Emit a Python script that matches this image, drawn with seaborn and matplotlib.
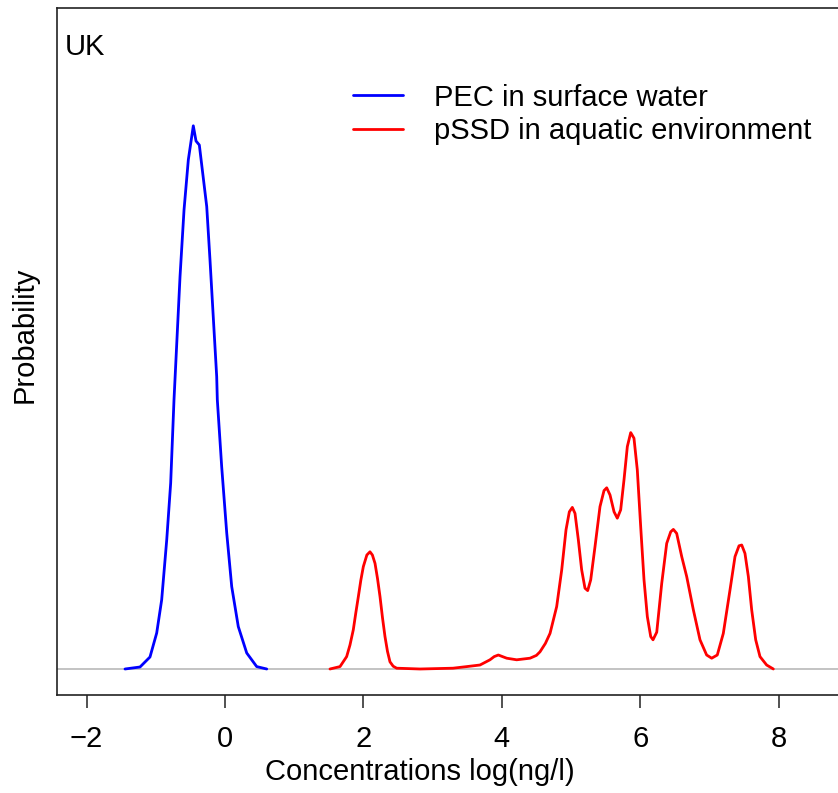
import numpy as np
import pandas as pd
import matplotlib
matplotlib.use("Agg")
import matplotlib.pyplot as plt
import seaborn as sns

# Density curves (x in log(ng/l), y in arbitrary density units)
pec_x = [-1.445, -1.228, -1.084, -0.987, -0.915, -0.842, -0.785, -0.737, -0.650, -0.592,
         -0.530, -0.458, -0.419, -0.371, -0.264, -0.217, -0.120, -0.111, -0.048, 0.025,
         0.097, 0.192, 0.314, 0.458, 0.603]
pec_y = [0.000, 0.005, 0.030, 0.090, 0.173, 0.323, 0.465, 0.673, 0.981, 1.148,
         1.273, 1.358, 1.320, 1.310, 1.156, 1.023, 0.731, 0.673, 0.506, 0.340,
         0.206, 0.106, 0.040, 0.006, 0.000]

pssd_x = [1.517, 1.662, 1.758, 1.806, 1.854, 1.890, 1.927, 1.963, 1.999, 2.050,
          2.095, 2.130, 2.168, 2.204, 2.240, 2.276, 2.312, 2.348, 2.384, 2.430,
          2.481, 2.818, 3.058, 3.295, 3.493, 3.685, 3.829, 3.890, 3.950, 4.010,
          4.071, 4.215, 4.408, 4.500, 4.552, 4.630, 4.697, 4.793, 4.866, 4.928,
          4.976, 5.019, 5.058, 5.106, 5.154, 5.202, 5.241, 5.285, 5.347, 5.419,
          5.477, 5.516, 5.564, 5.622, 5.669, 5.718, 5.766, 5.814, 5.863, 5.910,
          5.958, 6.007, 6.055, 6.103, 6.152, 6.185, 6.239, 6.311, 6.383, 6.441,
          6.479, 6.527, 6.600, 6.672, 6.768, 6.864, 6.960, 7.033, 7.114, 7.201,
          7.298, 7.370, 7.428, 7.467, 7.514, 7.563, 7.611, 7.669, 7.731, 7.827,
          7.924]
pssd_y = [0.000, 0.006, 0.031, 0.060, 0.098, 0.140, 0.181, 0.222, 0.256, 0.285,
          0.293, 0.285, 0.264, 0.226, 0.181, 0.128, 0.081, 0.044, 0.018, 0.007,
          0.002, 0.000, 0.001, 0.002, 0.006, 0.010, 0.023, 0.031, 0.035, 0.031,
          0.027, 0.023, 0.027, 0.034, 0.043, 0.064, 0.089, 0.156, 0.248, 0.348,
          0.393, 0.404, 0.389, 0.323, 0.248, 0.202, 0.196, 0.223, 0.306, 0.406,
          0.446, 0.453, 0.435, 0.393, 0.377, 0.398, 0.473, 0.556, 0.591, 0.577,
          0.498, 0.356, 0.223, 0.131, 0.081, 0.073, 0.092, 0.214, 0.314, 0.343,
          0.349, 0.339, 0.281, 0.231, 0.148, 0.073, 0.035, 0.027, 0.035, 0.089,
          0.198, 0.281, 0.308, 0.310, 0.289, 0.231, 0.148, 0.073, 0.031, 0.010,
          0.000]

series_names = ["PEC in surface water", "pSSD in aquatic environment"]
series_colors = ["blue", "red"]
x_ticks = [-2, 0, 2, 4, 6, 8]

df = pd.concat([
    pd.DataFrame({"x": pec_x, "y": pec_y, "series": series_names[0]}),
    pd.DataFrame({"x": pssd_x, "y": pssd_y, "series": series_names[1]}),
], ignore_index=True)

sns.set_style("ticks")
plt.rcParams["font.family"] = ["Liberation Sans", "DejaVu Sans"]
plt.rcParams["text.color"] = "black"
plt.rcParams["axes.labelcolor"] = "black"
plt.rcParams["xtick.color"] = "black"

W, H = 838, 793
fig = plt.figure(figsize=(W / 100, H / 100), dpi=100)
ax = fig.add_axes([57 / W, (H - 695) / H, 1 - 57 / W, (695 - 8) / H])

ax.axhline(0, color="#bebebe", lw=1.3, zorder=1)
sns.lineplot(data=df, x="x", y="y", hue="series", palette=dict(zip(series_names, series_colors)),
             estimator=None, sort=False, lw=2.0, ax=ax, zorder=3)

ax.set_xlim((57 - 225) / 69.2, (W - 225) / 69.2)
ax.set_ylim(-0.065, 1.6525)
ax.set_xticks(x_ticks)
ax.set_xticklabels([str(t).replace("-", "\u2212") for t in x_ticks])
ax.set_yticks([])
ax.tick_params(axis="x", length=9.5, width=1.1, labelsize=21, pad=12, color="#222222")
ax.set_xlabel("Concentrations log(ng/l)", fontsize=21)
ax.xaxis.set_label_coords((420 - 57) / (W - 57), -0.0917)
ax.set_ylabel("Probability", fontsize=21)
ax.yaxis.set_label_coords(-0.024, 0.525)

for s in ["left", "bottom", "top"]:
    ax.spines[s].set_linewidth(1.2)
    ax.spines[s].set_color("#222222")
ax.spines["right"].set_visible(False)

ax.legend(loc="upper left", bbox_to_anchor=(353 / W, 1 - 83.5 / H), bbox_transform=fig.transFigure,
          frameon=False, fontsize=21, handlelength=1.72, handletextpad=1.07, labelspacing=0.2,
          borderpad=0, borderaxespad=0, title=None)

fig.text(65 / W, 1 - 47 / H, "UK", fontsize=21, va="center", ha="left")

fig.savefig("out.png", dpi=100)
